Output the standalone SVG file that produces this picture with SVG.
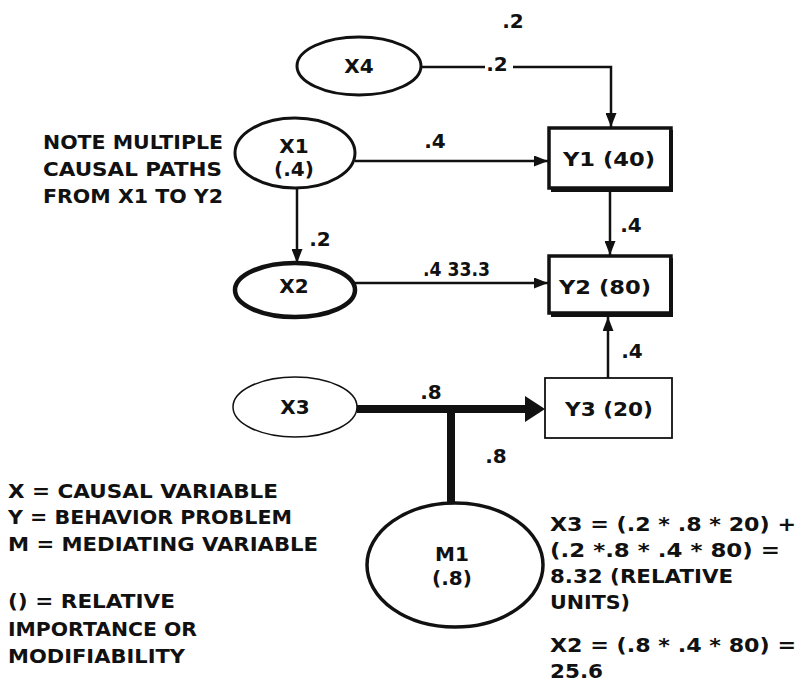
<svg xmlns="http://www.w3.org/2000/svg" width="798" height="684" viewBox="0 0 798 684">
<style>
text{font-family:"DejaVu Sans","Liberation Sans",sans-serif;font-weight:bold;font-size:20px;fill:#111}
.c{text-anchor:middle}
.node{fill:#fff;stroke:#111}
.ln{fill:none;stroke:#111;stroke-width:2.5}
.thick{fill:none;stroke:#111;stroke-width:8}
</style>
<defs>
<marker id="ah" viewBox="0 0 14 11" refX="14" refY="5.5" markerWidth="14" markerHeight="11" markerUnits="userSpaceOnUse" orient="auto">
<path d="M0,0 L14,5.5 L0,11 Z" fill="#111"/>
</marker>
</defs>
<rect width="798" height="684" fill="#fff"/>

<g id="connectors">
<path class="ln" d="M422,67 H485"/>
<path class="ln" d="M513,67 H611 V127" marker-end="url(#ah)"/>
<path class="ln" d="M355,161 H548" marker-end="url(#ah)"/>
<path class="ln" d="M297,188 V263" marker-end="url(#ah)"/>
<path class="ln" d="M610,192 V255" marker-end="url(#ah)"/>
<path class="ln" d="M355,283 H548" marker-end="url(#ah)"/>
<path class="ln" d="M608,378 V317" marker-end="url(#ah)"/>
<path class="thick" d="M357,409 H527"/>
<polygon points="525,396 545,409 525,422" fill="#111"/>
<path class="thick" d="M451,409 V503"/>
<text x="513" y="28" class="c">.2</text>
<text x="497" y="71" class="c">.2</text>
<text x="435" y="148" class="c">.4</text>
<text x="631" y="232" class="c">.4</text>
<text x="320" y="246" class="c">.2</text>
<text x="423" y="276" textLength="67" lengthAdjust="spacingAndGlyphs">.4 33.3</text>
<text x="632" y="358" class="c">.4</text>
<text x="431" y="399" class="c">.8</text>
<text x="496" y="463" class="c">.8</text>
</g>

<g id="X4">
<ellipse class="node" cx="359" cy="66" rx="62" ry="29" stroke-width="3"/>
<text x="359" y="73" class="c">X4</text>
</g>
<g id="X1">
<ellipse class="node" cx="295" cy="153" rx="60" ry="35" stroke-width="3"/>
<text x="294" y="153" class="c">X1</text>
<text x="294" y="176" class="c">(.4)</text>
</g>
<g id="X2">
<ellipse class="node" cx="295" cy="290" rx="60" ry="27" stroke-width="4.5"/>
<text x="294" y="293" class="c">X2</text>
</g>
<g id="X3">
<ellipse class="node" cx="295" cy="407" rx="62" ry="30" stroke-width="1.5"/>
<text x="295" y="414" class="c">X3</text>
</g>
<g id="M1">
<ellipse class="node" cx="455" cy="565" rx="88" ry="62" stroke-width="3.5"/>
<text x="452" y="561" class="c">M1</text>
<text x="452" y="585" class="c">(.8)</text>
</g>
<g id="Y1">
<rect class="node" x="549" y="128" width="122" height="60" stroke-width="3.5"/>
<path d="M671,130 V190 H551" fill="none" stroke="#111" stroke-width="4"/>
<text x="563" y="166" textLength="92" lengthAdjust="spacingAndGlyphs">Y1 (40)</text>
</g>
<g id="Y2">
<rect class="node" x="549" y="256" width="122" height="57" stroke-width="3.5"/>
<path d="M671,258 V315 H551" fill="none" stroke="#111" stroke-width="4"/>
<text x="559" y="294" textLength="92" lengthAdjust="spacingAndGlyphs">Y2 (80)</text>
</g>
<g id="Y3">
<rect class="node" x="545" y="378" width="127" height="60" stroke-width="1.8"/>
<text x="565" y="416" textLength="88" lengthAdjust="spacingAndGlyphs">Y3 (20)</text>
</g>

<g id="note">
<text x="43" y="149" textLength="180" lengthAdjust="spacingAndGlyphs">NOTE MULTIPLE</text>
<text x="43" y="176" textLength="179" lengthAdjust="spacingAndGlyphs">CAUSAL PATHS</text>
<text x="43" y="203" textLength="180" lengthAdjust="spacingAndGlyphs">FROM X1 TO Y2</text>
</g>
<g id="legend">
<text x="8" y="498" textLength="270" lengthAdjust="spacingAndGlyphs">X = CAUSAL VARIABLE</text>
<text x="8" y="524" textLength="284" lengthAdjust="spacingAndGlyphs">Y = BEHAVIOR PROBLEM</text>
<text x="8" y="551" textLength="310" lengthAdjust="spacingAndGlyphs">M = MEDIATING VARIABLE</text>
<text x="8" y="608" textLength="167" lengthAdjust="spacingAndGlyphs">() = RELATIVE</text>
<text x="8" y="636" textLength="189" lengthAdjust="spacingAndGlyphs">IMPORTANCE OR</text>
<text x="8" y="663" textLength="177" lengthAdjust="spacingAndGlyphs">MODIFIABILITY</text>
</g>
<g id="calc">
<text x="550" y="531" textLength="246" lengthAdjust="spacingAndGlyphs">X3 = (.2 * .8 * 20) +</text>
<text x="550" y="557" textLength="230" lengthAdjust="spacingAndGlyphs">(.2 *.8 * .4 * 80) =</text>
<text x="550" y="583" textLength="183" lengthAdjust="spacingAndGlyphs">8.32 (RELATIVE</text>
<text x="550" y="609" textLength="80" lengthAdjust="spacingAndGlyphs">UNITS)</text>
<text x="550" y="652" textLength="246" lengthAdjust="spacingAndGlyphs">X2 = (.8 * .4 * 80) =</text>
<text x="550" y="678" textLength="53" lengthAdjust="spacingAndGlyphs">25.6</text>
</g>
</svg>
